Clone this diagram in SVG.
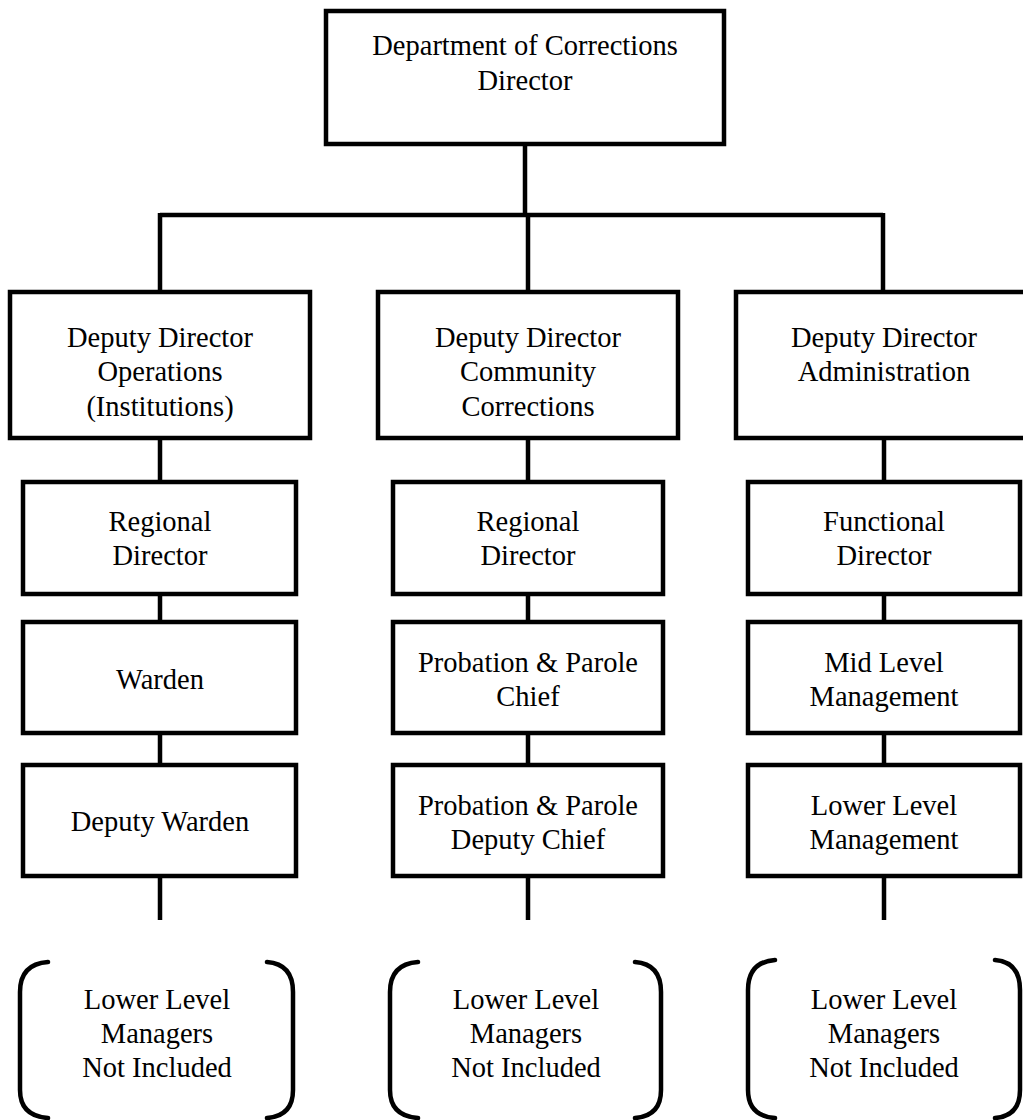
<svg xmlns="http://www.w3.org/2000/svg" width="1023" height="1120" viewBox="0 0 1023 1120">
  <style>
    .box { fill: #ffffff; stroke: #000000; stroke-width: 4.5; }
    .wire { fill: none; stroke: #000000; stroke-width: 4.5; }
    .brk { fill: none; stroke: #000000; stroke-width: 4.5; stroke-linecap: round; }
    text { font-family: "Liberation Serif", "Times New Roman", serif; font-size: 28.5px; fill: #000000; text-anchor: middle; }
  </style>
  <rect width="1023" height="1120" fill="#ffffff"/>

  <!-- connectors -->
  <g id="connectors">
    <path class="wire" d="M525 144 V215 M160 215 H883 M160 213 V292 M528 215 V292 M883 213 V292"/>
    <path class="wire" d="M160 438 V482 M160 594 V622 M160 733 V765 M160 876 V920"/>
    <path class="wire" d="M528 438 V482 M528 594 V622 M528 733 V765 M528 876 V920"/>
    <path class="wire" d="M884 438 V482 M884 594 V622 M884 733 V765 M884 876 V920"/>
  </g>

  <!-- top -->
  <g id="director">
    <rect class="box" x="326" y="11" width="398" height="133"/>
    <text x="525" y="55">Department of Corrections</text>
    <text x="525" y="90">Director</text>
  </g>

  <!-- deputy directors -->
  <g id="dd-operations">
    <rect class="box" x="10" y="292" width="300" height="146"/>
    <text x="160" y="347">Deputy Director</text>
    <text x="160" y="381">Operations</text>
    <text x="160" y="416">(Institutions)</text>
  </g>
  <g id="dd-community">
    <rect class="box" x="378" y="292" width="300" height="146"/>
    <text x="528" y="347">Deputy Director</text>
    <text x="528" y="381">Community</text>
    <text x="528" y="416">Corrections</text>
  </g>
  <g id="dd-administration">
    <rect class="box" x="736" y="292" width="300" height="146"/>
    <text x="884" y="347">Deputy Director</text>
    <text x="884" y="381">Administration</text>
  </g>

  <!-- left column -->
  <g id="ops-regional">
    <rect class="box" x="23" y="482" width="273" height="112"/>
    <text x="160" y="531">Regional</text>
    <text x="160" y="565">Director</text>
  </g>
  <g id="ops-warden">
    <rect class="box" x="23" y="622" width="273" height="111"/>
    <text x="160" y="689">Warden</text>
  </g>
  <g id="ops-deputy-warden">
    <rect class="box" x="23" y="765" width="273" height="111"/>
    <text x="160" y="831">Deputy Warden</text>
  </g>
  <g id="ops-lower">
    <path class="brk" d="M48 962 Q20 964 20 992 V1090 Q20 1116 48 1118 M267 962 Q293 964 293 992 V1090 Q293 1116 267 1118"/>
    <text x="157" y="1009">Lower Level</text>
    <text x="157" y="1043">Managers</text>
    <text x="157" y="1077">Not Included</text>
  </g>

  <!-- middle column -->
  <g id="cc-regional">
    <rect class="box" x="393" y="482" width="270" height="112"/>
    <text x="528" y="531">Regional</text>
    <text x="528" y="565">Director</text>
  </g>
  <g id="cc-chief">
    <rect class="box" x="393" y="622" width="270" height="111"/>
    <text x="528" y="672">Probation &amp; Parole</text>
    <text x="528" y="706">Chief</text>
  </g>
  <g id="cc-deputy-chief">
    <rect class="box" x="393" y="765" width="270" height="111"/>
    <text x="528" y="815">Probation &amp; Parole</text>
    <text x="528" y="849">Deputy Chief</text>
  </g>
  <g id="cc-lower">
    <path class="brk" d="M418 962 Q390 964 390 992 V1090 Q390 1116 418 1118 M635 962 Q661 964 661 992 V1090 Q661 1116 635 1118"/>
    <text x="526" y="1009">Lower Level</text>
    <text x="526" y="1043">Managers</text>
    <text x="526" y="1077">Not Included</text>
  </g>

  <!-- right column -->
  <g id="adm-functional">
    <rect class="box" x="748" y="482" width="272" height="112"/>
    <text x="884" y="531">Functional</text>
    <text x="884" y="565">Director</text>
  </g>
  <g id="adm-mid">
    <rect class="box" x="748" y="622" width="272" height="111"/>
    <text x="884" y="672">Mid Level</text>
    <text x="884" y="706">Management</text>
  </g>
  <g id="adm-lower-mgmt">
    <rect class="box" x="748" y="765" width="272" height="111"/>
    <text x="884" y="815">Lower Level</text>
    <text x="884" y="849">Management</text>
  </g>
  <g id="adm-lower">
    <path class="brk" d="M775 960 Q748 962 748 990 V1090 Q748 1116 775 1118 M995 960 Q1020 962 1020 990 V1090 Q1020 1116 995 1118"/>
    <text x="884" y="1009">Lower Level</text>
    <text x="884" y="1043">Managers</text>
    <text x="884" y="1077">Not Included</text>
  </g>
</svg>
